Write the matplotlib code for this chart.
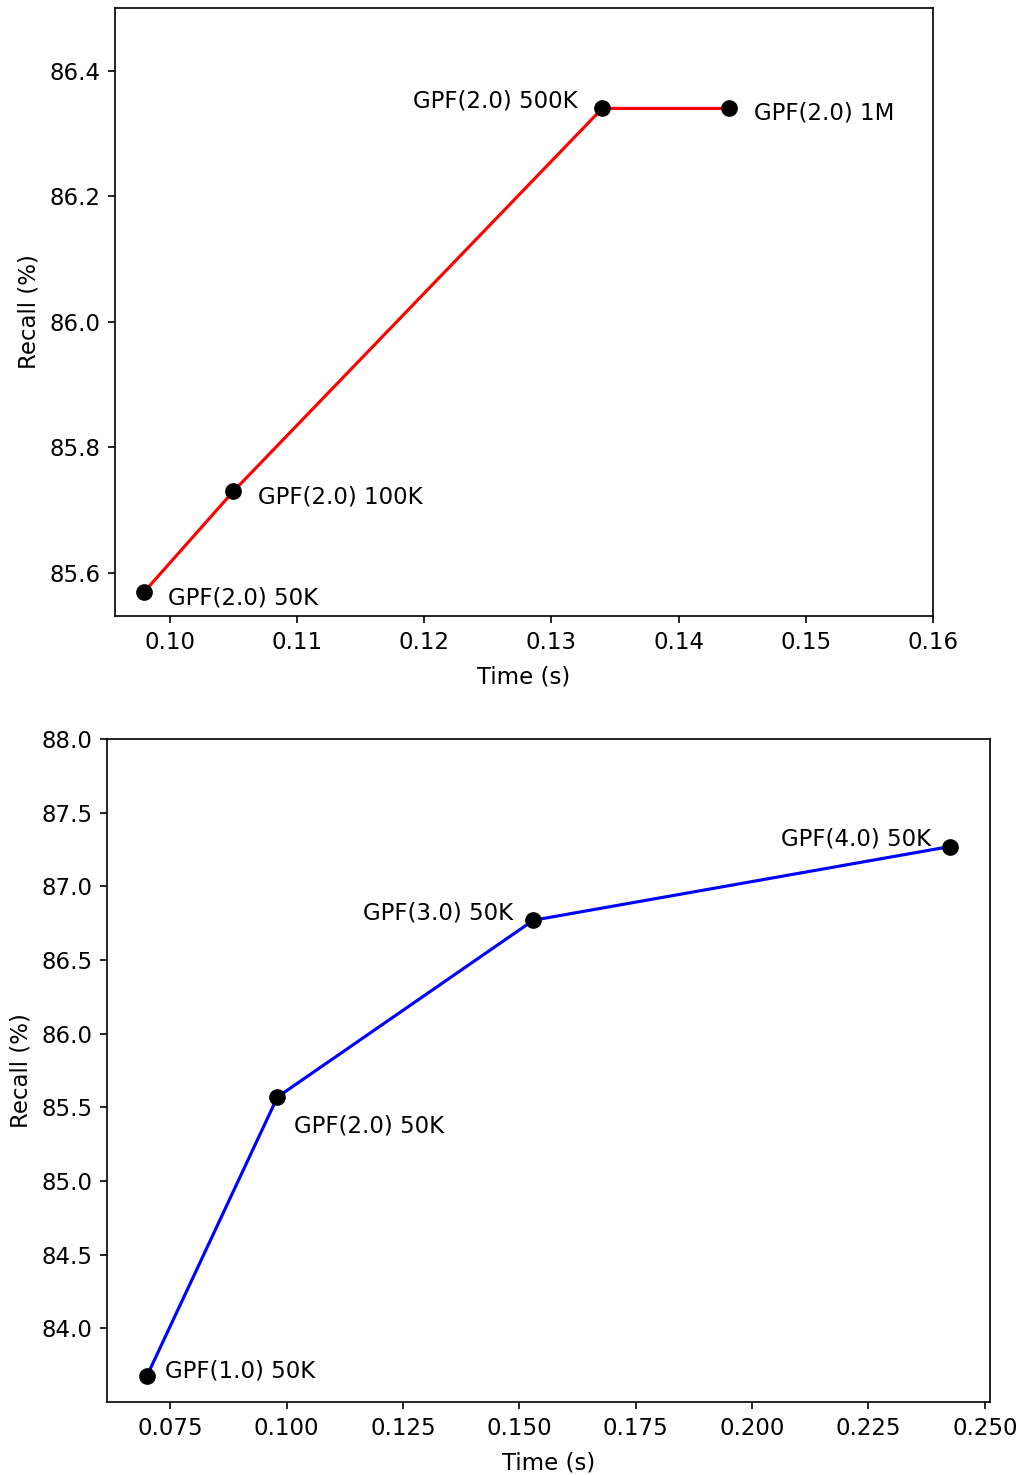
import matplotlib
matplotlib.use("Agg")
import matplotlib.pyplot as plt

plt.rcParams["font.size"] = 11

# Top chart: GPF(2.0) with varying sample counts
top_time = [0.098, 0.105, 0.134, 0.144]
top_recall = [85.57, 85.73, 86.34, 86.34]
top_labels = ["GPF(2.0) 50K", "GPF(2.0) 100K", "GPF(2.0) 500K", "GPF(2.0) 1M"]

# Bottom chart: GPF(p) 50K with varying p
bot_time = [0.070, 0.098, 0.153, 0.2425]
bot_recall = [83.68, 85.57, 86.77, 87.27]
bot_labels = ["GPF(1.0) 50K", "GPF(2.0) 50K", "GPF(3.0) 50K", "GPF(4.0) 50K"]

# label offsets (points) and alignment
top_offsets = [(11.5, -3.0, "left"), (12, -2.8, "left"), (-12, 3.8, "right"), (12, -2.2, "left")]
bot_offsets = [(8.6, 2.2, "left"), (8, -14, "left"), (-9.6, 3.4, "right"), (-9, 3.8, "right")]

fig = plt.figure(figsize=(1018 / 150, 1475 / 150), dpi=150)

ax1 = fig.add_axes([115 / 1018, (1475 - 616) / 1475, 818 / 1018, 608 / 1475])
ax1.plot(top_time, top_recall, color="red", linewidth=1.5, zorder=2)
ax1.plot(top_time, top_recall, "o", color="black", markersize=7, zorder=3)
for x, y, lab, (dx, dy, ha) in zip(top_time, top_recall, top_labels, top_offsets):
    ax1.annotate(lab, (x, y), xytext=(dx, dy), textcoords="offset points",
                 ha=ha, va="center")
ax1.set_xlim(right=0.16)
ax1.set_ylim(top=86.5)
ax1.set_xlabel("Time (s)", labelpad=5.5)
ax1.set_ylabel("Recall (%)")

ax2 = fig.add_axes([107 / 1018, (1475 - 1402) / 1475, 883 / 1018, 663 / 1475])
ax2.plot(bot_time, bot_recall, color="blue", linewidth=1.5, zorder=2)
ax2.plot(bot_time, bot_recall, "o", color="black", markersize=7, zorder=3)
for x, y, lab, (dx, dy, ha) in zip(bot_time, bot_recall, bot_labels, bot_offsets):
    ax2.annotate(lab, (x, y), xytext=(dx, dy), textcoords="offset points",
                 ha=ha, va="center")
ax2.set_ylim(top=88.0)
ax2.set_xlabel("Time (s)", labelpad=5.5)
ax2.set_ylabel("Recall (%)")

fig.savefig("out.png", dpi=150)
